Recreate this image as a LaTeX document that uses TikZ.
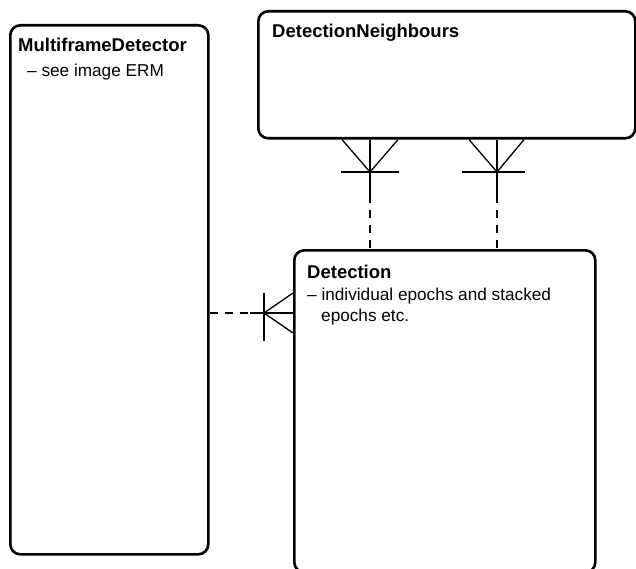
\documentclass[tikz,border=0pt]{standalone}
\usepackage{fontspec}
\setmainfont{Liberation Sans}
\begin{document}
\begin{tikzpicture}[x=1pt,y=-1pt,
  box/.style={draw,line width=2.6pt,rounded corners=10pt,inner sep=0pt},
  rel/.style={line width=1.3pt},
  reld/.style={line width=1.3pt,dash pattern=on 8pt off 7pt},
  ttl/.style={anchor=base west,inner sep=0pt,font=\fontsize{18.5}{21}\selectfont\bfseries},
  txt/.style={anchor=base west,inner sep=0pt,font=\fontsize{17.2}{21}\selectfont,align=left}]
\useasboundingbox (0,0) rectangle (636,569);
\begin{scope}
\clip (0,0) rectangle (636,569);
% boxes
\node[box,anchor=north west,minimum width=198pt,minimum height=529pt] (mfd) at (9,24) {};
\node[box,anchor=north west,minimum width=377pt,minimum height=127pt] (dn) at (257,10) {};
\node[box,anchor=north west,minimum width=301pt,minimum height=322pt] (det) at (293,249) {};
\end{scope}
% texts
\node[ttl] (t1) at (18,52) {MultiframeDetector};
\node[txt] (s1) at (27,77) {– see image ERM};
\node[ttl] (t2) at (272,38) {DetectionNeighbours};
\node[ttl] (t3) at (307,278) {Detection};
\node[txt] (s3a) at (307,300) {– individual epochs and stacked};
\node[txt] (s3b) at (321,321) {epochs etc.};
% connector 1 (x=370)
\coordinate (a1) at (370,172);
\coordinate (a1s) at (370,195);
\draw[rel] (dn.south -| a1) -- (a1s);
\draw[reld] (a1s) -- (det.north -| a1);
\draw[rel] (dn.south -| 342,0) -- (a1) -- (dn.south -| 398,0);
\draw[rel] (341,172) -- (399,172);
% connector 2 (x=497)
\coordinate (a2) at (497,172);
\coordinate (a2s) at (497,195);
\draw[rel] (dn.south -| a2) -- (a2s);
\draw[reld] (a2s) -- (det.north -| a2);
\draw[rel] (dn.south -| 469,0) -- (a2) -- (dn.south -| 524,0);
\draw[rel] (462,172) -- (525,172);
% connector 3 (left)
\coordinate (a3) at (264,313);
\coordinate (a3s) at (250,313);
\draw[reld] (mfd.east |- a3) -- (a3s);
\draw[rel] (a3s) -- (det.west |- a3);
\draw[rel] (det.west |- 0,293) -- (a3) -- (det.west |- 0,333);
\draw[rel] (264,293) -- (264,341);
\end{tikzpicture}
\end{document}
